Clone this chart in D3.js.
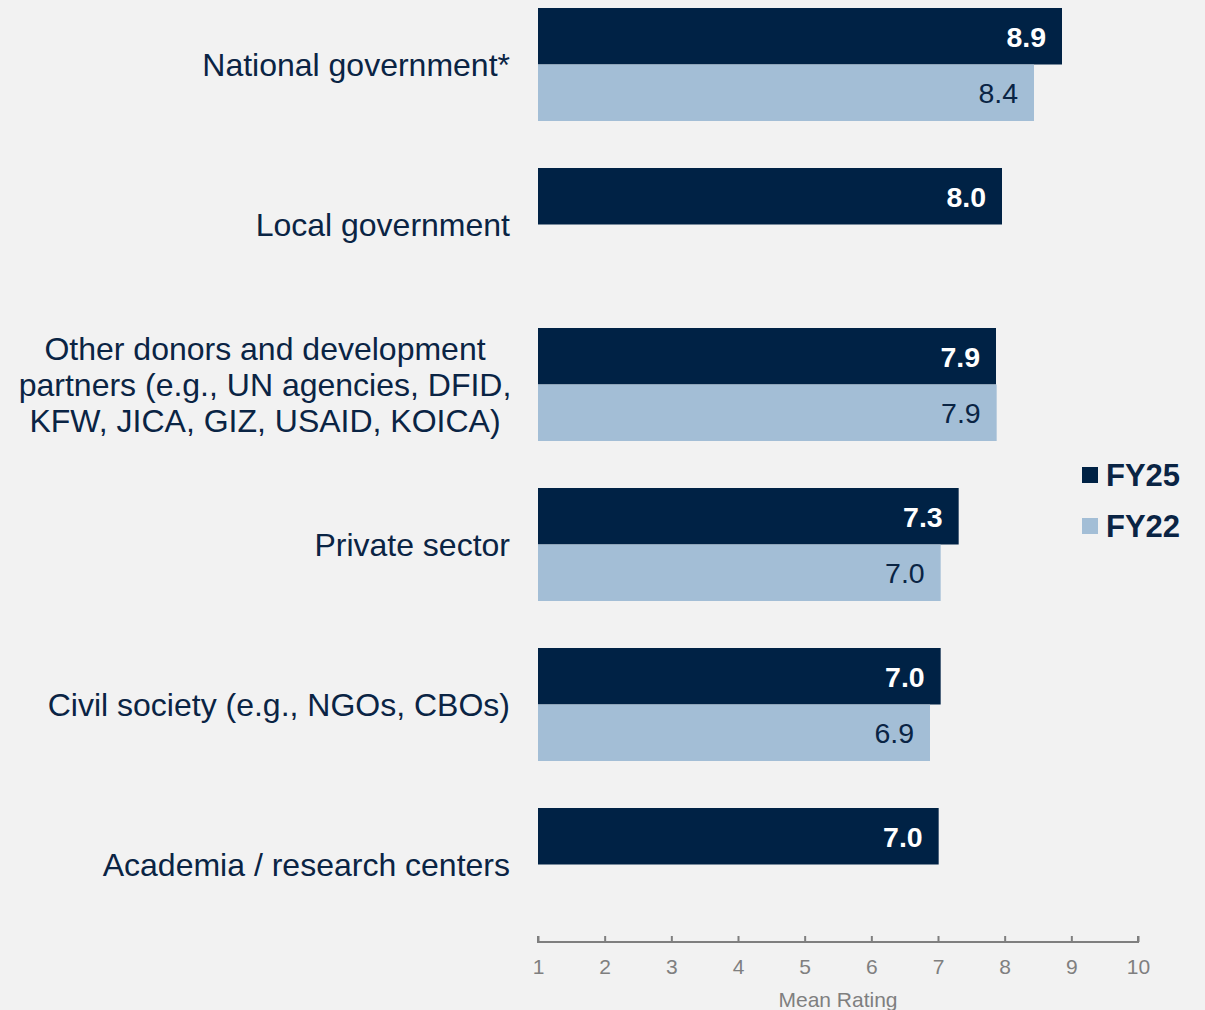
<!DOCTYPE html>
<html><head><meta charset="utf-8">
<script src="https://cdn.jsdelivr.net/npm/d3@7"></script>
<style>
html,body{margin:0;padding:0;background:#f2f2f2;}
svg{display:block;font-family:"Liberation Sans",Arial,sans-serif;}
</style></head>
<body>
<svg id="chart" width="1205" height="1010"></svg>
<script>
const categories = [
  ["National government*"],
  ["Local government"],
  ["Other donors and development", "partners (e.g., UN agencies, DFID,", "KFW, JICA, GIZ, USAID, KOICA)"],
  ["Private sector"],
  ["Civil society (e.g., NGOs, CBOs)"],
  ["Academia / research centers"]
];
const seriesNames = ["FY25", "FY22"];
const fy25 = [8.86, 7.96, 7.87, 7.31, 7.04, 7.01];
const fy22 = [8.44, null, 7.88, 7.04, 6.88, null];
const tickValues = [1,2,3,4,5,6,7,8,9,10];
const axisTitle = "Mean Rating";

const dark = "#002245", light = "#a3bed6", textCol = "#0a2444", grey = "#7f7f7f";
const svg = d3.select("#chart");
const keys = categories.map((c,i)=>"c"+i);
const x = d3.scaleLinear().domain([1,10]).range([538,1138]);
const y = d3.scaleBand().domain(keys).range([-15.5,944.5]).paddingInner(0.29375).paddingOuter(0.146875);
const ys = d3.scaleBand().domain(seriesNames).range([0,y.bandwidth()]);

const data = [];
keys.forEach((k,i)=>{
  data.push({k, s:"FY25", v:fy25[i]});
  if (fy22[i] != null) data.push({k, s:"FY22", v:fy22[i]});
});

svg.append("g").selectAll("rect").data(data).join("rect")
  .attr("x", x(1))
  .attr("y", d=>y(d.k)+ys(d.s))
  .attr("width", d=>x(d.v)-x(1))
  .attr("height", ys.bandwidth())
  .attr("fill", d=>d.s==="FY25"?dark:light);

svg.append("g").selectAll("text").data(data).join("text")
  .attr("x", d=>x(d.v)-16)
  .attr("y", d=>y(d.k)+ys(d.s)+ys.bandwidth()/2)
  .attr("dy","0.36em")
  .attr("text-anchor","end")
  .attr("font-size", 28.5)
  .attr("font-weight", d=>d.s==="FY25"?"bold":"normal")
  .attr("fill", d=>d.s==="FY25"?"#ffffff":textCol)
  .text(d=>d3.format(".1f")(d.v));

// category labels
const lh = 36;
keys.forEach((k,i)=>{
  const lines = categories[i];
  const cy = y(k)+y.bandwidth()/2;
  const multi = lines.length>1;
  const t = svg.append("text")
    .attr("font-size", 32)
    .attr("fill", textCol)
    .attr("text-anchor", multi?"middle":"end");
  lines.forEach((ln,j)=>{
    t.append("tspan")
      .attr("x", multi?265:510)
      .attr("y", cy + (j-(lines.length-1)/2)*lh)
      .attr("dy","0.35em")
      .text(ln);
  });
});

// axis
const axis = d3.axisBottom(x).tickValues(tickValues).tickSize(-6).tickPadding(17).tickFormat(d3.format("d"));
const ag = svg.append("g").attr("transform","translate(0,942)").call(axis);
ag.select(".domain").attr("stroke",grey).attr("stroke-width",2).attr("d", `M${x(1)},-6V0H${x(10)}V-6`);
ag.selectAll(".tick line").attr("stroke",grey).attr("stroke-width",2);
ag.selectAll(".tick text").attr("fill",grey).attr("font-size",21).attr("font-family","Liberation Sans, Arial, sans-serif");
svg.append("text").attr("x",(x(1)+x(10))/2).attr("y",1000).attr("dy","0.35em")
  .attr("text-anchor","middle").attr("font-size",21).attr("fill",grey).text(axisTitle);

// legend
const lg = svg.append("g");
seriesNames.forEach((s,i)=>{
  const ly = 475 + i*51;
  lg.append("rect").attr("x",1082).attr("y",ly-8).attr("width",16).attr("height",16).attr("fill", s==="FY25"?dark:light);
  lg.append("text").attr("x",1106).attr("y",ly).attr("dy","0.36em").attr("font-size",31).attr("font-weight","bold").attr("fill",textCol).text(s);
});
</script>
</body></html>
